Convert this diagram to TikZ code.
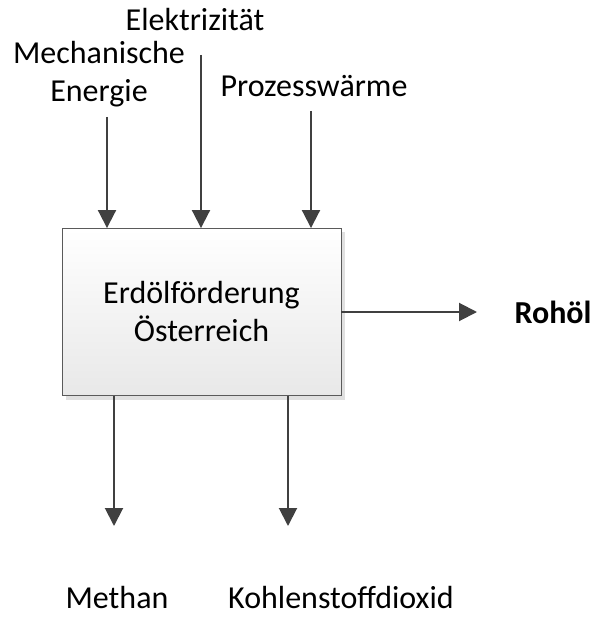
\documentclass[tikz,border=0pt]{standalone}
\usepackage{fontspec}
\setmainfont{Carlito}
\usetikzlibrary{arrows.meta,positioning,shadows}
\definecolor{flowgray}{RGB}{64,64,64}
\definecolor{boxedge}{RGB}{90,90,90}

\begin{document}
\begin{tikzpicture}[
  x=1pt, y=-1pt,
  proc/.style={draw=boxedge, line width=0.9pt, top color=white, bottom color=black!9,
               minimum width=279pt, minimum height=167pt, align=center,
               drop shadow={shadow xshift=4pt, shadow yshift=-4pt, fill=black!12, opacity=1}},
  txt/.style={font=\fontsize{32}{38}\selectfont, align=center, inner sep=0pt},
  lbl/.style={font=\fontsize{32}{38}\selectfont, inner sep=0pt},
  flow/.style={-{Triangle[length=18pt, width=18pt]}, line width=2pt, flowgray}
]
\useasboundingbox (0,0) rectangle (594,617);

\node[proc, txt] (foerd) at (201.5,312) {Erdölförderung\\Österreich};

% inputs
\node[txt] (mech) at (99,74) {Mechanische\\Energie};
\node[lbl] (elek) at (195,20) {Elektrizität};
\node[lbl] (waerme) at (314,86) {Prozesswärme};
\coordinate (mechIn) at (107,117);
\coordinate (elekIn) at (201,55);
\coordinate (waermeIn) at (311,111);
\draw[flow] (mechIn) -- (mechIn |- foerd.north);
\draw[flow] (elekIn) -- (elekIn |- foerd.north);
\draw[flow] (waermeIn) -- (waermeIn |- foerd.north);

% outputs
\node[lbl, font=\fontsize{32}{38}\selectfont\bfseries] (oel) at (553,312) {Rohöl};
\node[lbl, anchor=base] (methan) at (117,608) {Methan};
\node[lbl, anchor=base] (co2) at (341,608) {Kohlenstoffdioxid};
\coordinate (oelOut) at (477,312);
\coordinate (methanOut) at (114,526);
\coordinate (co2Out) at (288,526);
\draw[flow] (foerd.east) -- (oelOut);
\draw[flow] (methanOut |- foerd.south) -- (methanOut);
\draw[flow] (co2Out |- foerd.south) -- (co2Out);
\end{tikzpicture}
\end{document}
